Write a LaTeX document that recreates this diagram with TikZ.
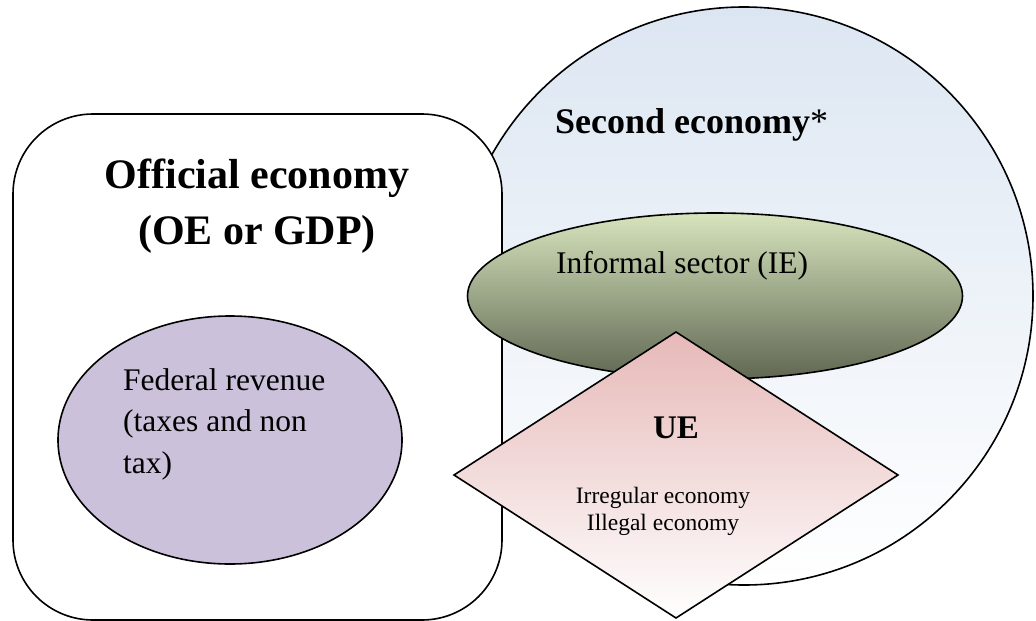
\documentclass[tikz,border=0pt]{standalone}
\usepackage{fontspec}
\setmainfont{Liberation Serif}
\usetikzlibrary{shapes.geometric}
\definecolor{secondtop}{HTML}{DCE6F2}
\definecolor{revenuefill}{HTML}{CCC1DA}
\definecolor{informaltop}{HTML}{D7E4BD}
\definecolor{informalbottom}{HTML}{5F6752}
\definecolor{uetop}{HTML}{E6B9B8}
\begin{document}
\begin{tikzpicture}[x=1pt,y=-1pt,
  outline/.style={draw=black, line width=1.6pt, inner sep=0pt, outer sep=0pt},
  label32/.style={font=\fontsize{31.5}{41.5}\selectfont, inner sep=0pt},
  title/.style={font=\fontsize{42}{56}\selectfont\bfseries, inner sep=0pt, align=center}]
\useasboundingbox (0,0) rectangle (1036,621);

% second economy (large circle)
\node[outline, circle, minimum size=578, top color=secondtop, bottom color=white] (second) at (744,296) {};

% official economy (rounded box)
\node[outline, rectangle, rounded corners=80, fill=white, minimum width=489, minimum height=506] (official) at (257.5,367) {};

% federal revenue
\node[outline, ellipse, fill=revenuefill, minimum width=344, minimum height=248] (revenue) at (230,440) {};

% informal sector
\node[outline, ellipse, top color=informaltop, bottom color=informalbottom, minimum width=495, minimum height=166] (informal) at (715,296) {};

% underground economy
\node[outline, diamond, top color=uetop, bottom color=white, minimum width=444, minimum height=286] (ue) at (676,475) {};

% texts (multi-line nodes are anchored on the baseline of their last line)
\node[title, anchor=base] (officialtext) at (257,244) {Official economy\\(OE or GDP)};
\node[anchor=base west, inner sep=0pt, font=\fontsize{36}{40}\selectfont] (secondtext) at (555,133) {\textbf{Second economy}*};
\node[label32, anchor=base west, align=left] (revenuetext) at (123,473) {Federal revenue\\(taxes and non\\tax)};
\node[label32, anchor=base west] (informaltext) at (556,273) {Informal sector (IE)};
\node[anchor=base, inner sep=0pt, font=\fontsize{33}{36}\selectfont\bfseries] (uetext) at (676,438) {UE};
\node[anchor=base, inner sep=0pt, align=center, font=\fontsize{23.5}{27}\selectfont] (uesub) at (663,530) {Irregular economy\\Illegal economy};
\end{tikzpicture}
\end{document}
